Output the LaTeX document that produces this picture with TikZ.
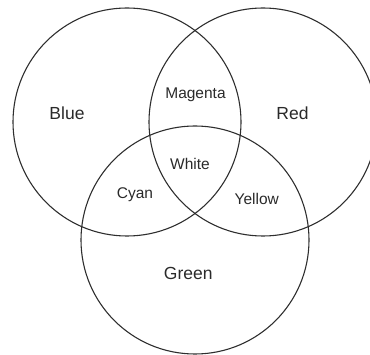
\documentclass[tikz,border=0pt]{standalone}
\usepackage{fontspec}
\setmainfont{Liberation Sans}
\usepackage{tikz}
\usepackage{xcolor}
\usetikzlibrary{positioning}
\definecolor{ringgray}{HTML}{2E2E2E}
\definecolor{textgray}{HTML}{2A2A2A}
\tikzset{
  ring/.style={circle, draw=ringgray, line width=1.1pt, minimum size=228pt,
               inner sep=0pt},
  main/.style={anchor=base, text=textgray, inner sep=0pt,
               font=\fontsize{17.5}{20}\selectfont},
  mix/.style={anchor=base, text=textgray, inner sep=0pt,
              font=\fontsize{15.5}{18}\selectfont},
}

\begin{document}
\begin{tikzpicture}[x=1pt, y=1pt]
  \useasboundingbox (0,0) rectangle (370,354);
  % the three circles
  \node (blue) [ring] at (127,232) {};
  \node (red) [ring] at (263,232) {};
  \node (green) [ring] at (195,114) {};
  % labels
  \node (lblue) [main] at (67,234.7) {Blue};
  \node (lred) [main] at (292.5,234.7) {Red};
  \node (lgreen) [main] at (188.3,74.7) {Green};
  \node (lmag) [mix] at (195.5,255) {Magenta};
  \node (lwhite) [mix] at (190,184.7) {White};
  \node (lcyan) [mix] at (135,155.7) {Cyan};
  \node (lyel) [mix] at (256.7,149.7) {Yellow};
\end{tikzpicture}
\end{document}
